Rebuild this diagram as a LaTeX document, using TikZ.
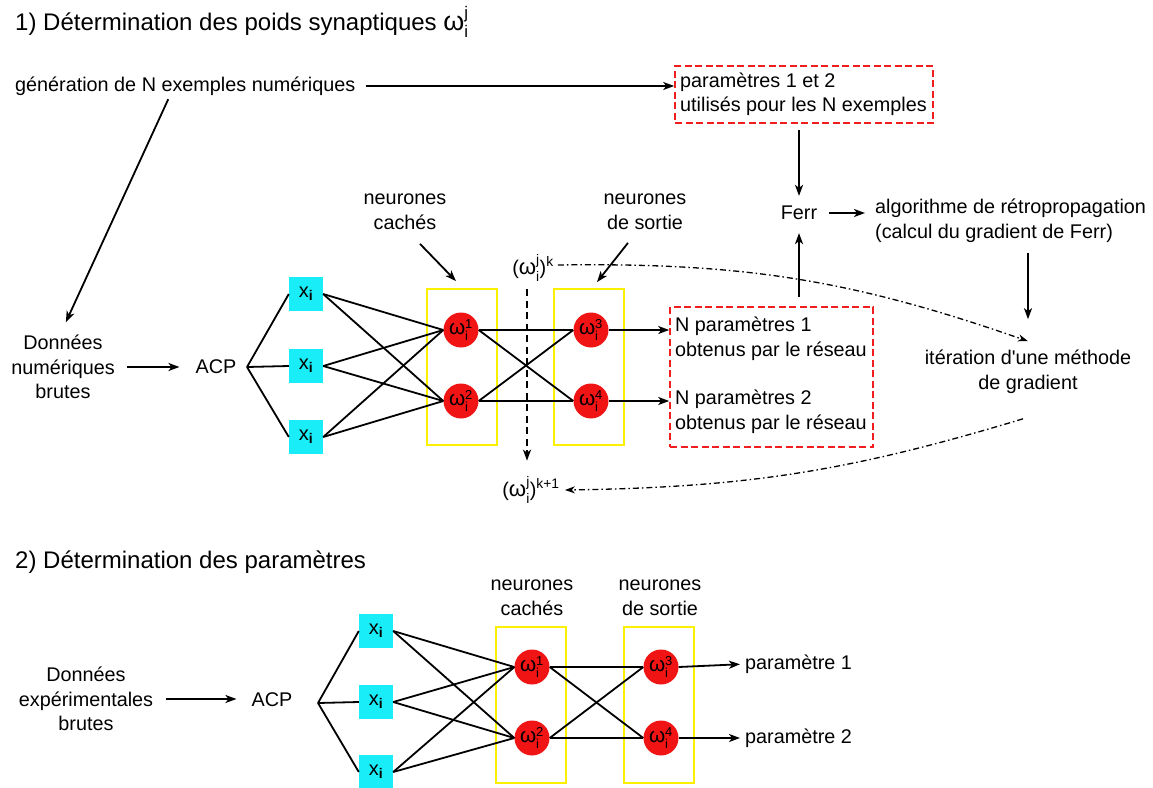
\documentclass[tikz,border=0pt]{standalone}
\usepackage{amsmath}
\usepackage{fontspec}
\setmainfont{Liberation Sans}
\usetikzlibrary{arrows.meta,calc}

\definecolor{inputcyan}{RGB}{25,238,248}
\definecolor{neuronred}{RGB}{240,20,20}
\definecolor{layeryellow}{RGB}{250,240,0}
\definecolor{framered}{RGB}{240,30,30}

% weight w_i^n, input x_i, iterate (w_i^j)^n
\newcommand{\om}{\scalebox{1.12}{ω}}
\newcommand{\wgt}[1]{$\text{\om}_{\text{i}}^{\text{#1}}$}
\newcommand{\inx}{$\text{x}_{\textbf{i}}$}
\newcommand{\wit}[1]{$\text{(\om}_{\text{i}}^{\text{j}}\text{)}^{\text{#1}}$}

\begin{document}
\begin{tikzpicture}[x=1pt,y=-1pt,
  txt/.style={font=\fontsize{19.8}{24.5}\selectfont, inner sep=0pt, align=center},
  ttl/.style={font=\fontsize{24}{28}\selectfont, inner sep=0pt, anchor=west},
  wire/.style={line width=1.8pt},
  arr/.style={line width=1.8pt, -{Stealth[length=11pt,width=8pt,inset=3pt]}},
  dasharr/.style={arr, dash pattern=on 7pt off 4.5pt},
  loop/.style={line width=1.3pt, dash pattern=on 6pt off 3pt on 1.5pt off 3pt,
    -{Stealth[length=10pt,width=7pt,inset=3pt]}},
  inbox/.style={fill=inputcyan, minimum size=34pt, inner sep=0pt, font=\fontsize{20}{22}\selectfont},
  neuron/.style={circle, fill=neuronred, minimum size=35pt, inner sep=0pt, font=\fontsize{18.5}{21}\selectfont},
  layer/.style={draw=layeryellow, line width=1.8pt, minimum width=70pt, minimum height=156pt, inner sep=0pt},
  redframe/.style={draw=framered, line width=1.6pt, dash pattern=on 7pt off 3.5pt, inner sep=0pt},
]
\useasboundingbox (0,0) rectangle (1153,787);

%% ---------- Part 1: training the synaptic weights ----------
\node[ttl] (t1) at (15,22) {1) Détermination des poids synaptiques \wgt{j}};
\node[txt, anchor=west] (gen) at (15,86) {génération de N exemples numériques};
\node[redframe, minimum width=258pt, minimum height=57pt] (pars) at (804,94.5) {};
\node[txt, anchor=west, align=left] (parst) at (680,94.5) {paramètres 1 et 2\\utilisés pour les N exemples};
\node[txt] (ferr) at (799,213) {Ferr};
\node[txt, anchor=west, align=left] (algo) at (875,221) {algorithme de rétropropagation\\(calcul du gradient de Ferr)};
\node[txt] (iter) at (1028,372) {itération d\textquotesingle une méthode\\de gradient};
\node[txt] (don) at (63,367) {Données\\numériques\\brutes};
\node[txt] (acp) at (216,367) {ACP};
\coordinate (fan) at (247,367);

\node[inbox] (x1) at (306,294) {\inx};
\node[inbox] (x2) at (306,366) {\inx};
\node[inbox] (x3) at (306,437) {\inx};

\node[layer] (L1) at (462,367) {};
\node[layer] (L2) at (589,367) {};
\node[neuron] (n1) at (461,330) {\wgt{1}};
\node[neuron] (n2) at (461,401) {\wgt{2}};
\node[neuron] (n3) at (591,330) {\wgt{3}};
\node[neuron] (n4) at (591,401) {\wgt{4}};

\node[txt] (hid) at (405,212) {neurones\\cachés};
\node[txt] (outl) at (645,212) {neurones\\de sortie};
\node[txt] (wk) at (533,268) {\wit{k}};
\node[txt] (wk1) at (531,490) {\wit{k+1}};

\node[redframe, minimum width=203pt, minimum height=140pt] (res) at (771.5,377) {};
\node[txt, anchor=west, align=left] (r1) at (675,339) {N paramètres 1\\obtenus par le réseau};
\node[txt, anchor=west, align=left] (r2) at (675,412) {N paramètres 2\\obtenus par le réseau};

% data flow
\draw[arr, shorten <=10pt] (gen.east) -- (gen.east -| pars.west);
\draw[arr, shorten <=4pt, shorten >=14pt] ($(gen.south west)!0.455!(gen.south east)$) -- ($(don.north)+(-3,0)$);
\draw[arr, shorten <=12pt, shorten >=16pt] (don.east) -- (acp.west);
\foreach \b in {x1,x2,x3} \draw[wire] (fan) -- (\b.west);
\foreach \b in {x1,x2,x3} \foreach \n in {n1,n2} \draw[wire] (\b.east) -- (\n.west);
\foreach \a in {n1,n2} \foreach \n in {n3,n4} \draw[wire] (\a.east) -- (\n.west);
\draw[arr] (n3.east) -- (n3 -| res.west);
\draw[arr] (n4.east) -- (n4 -| res.west);

% layer labels
\draw[arr] ($(hid.south)+(15,14)$) -- ($(L1.north)+(-6,-7)$);
\draw[arr] ($(outl.south)+(-17,13)$) -- ($(L2.north)+(8,-6)$);

% error and gradient loop
\draw[arr, shorten <=6pt, shorten >=10pt] (ferr |- pars.south) -- (ferr.north);
\draw[arr, shorten <=9pt, shorten >=13pt] (ferr |- res.north) -- (ferr.south);
\draw[arr, shorten <=12pt, shorten >=10pt] (ferr.east) -- (ferr.east -| algo.west);
\draw[arr, shorten <=10pt, shorten >=31pt] (algo.south -| iter.north) -- (iter.north);
\draw[dasharr] ($(wk.south)+(-6,8)$) -- ($(wk1.north)+(-4,-16)$);
\draw[loop] ($(wk.east)+(4,-3)$) to[bend left=10] ($(iter.north)+(0,-9)$);
\draw[loop] ($(iter.south)+(-5,25)$) to[bend left=8] ($(wk1.east)+(5,0)$);

%% ---------- Part 2: using the trained network ----------
\node[ttl] (t2) at (15,562) {2) Détermination des paramètres};
\node[txt] (don2) at (86,699) {Données\\expérimentales\\brutes};
\node[txt] (acp2) at (272,700) {ACP};
\coordinate (fan2) at (318,703);

\node[inbox] (y1) at (376,631) {\inx};
\node[inbox] (y2) at (376,702) {\inx};
\node[inbox] (y3) at (376,772) {\inx};

\node[layer] (L21) at (531,705) {};
\node[layer] (L22) at (659,705) {};
\node[neuron] (m1) at (532,667) {\wgt{1}};
\node[neuron] (m2) at (532,738) {\wgt{2}};
\node[neuron] (m3) at (661,667) {\wgt{3}};
\node[neuron] (m4) at (661,738) {\wgt{4}};

\node[txt] (hid2) at (532,598) {neurones\\cachés};
\node[txt] (outl2) at (660,598) {neurones\\de sortie};
\node[txt, anchor=west] (p1) at (745,664) {paramètre 1};
\node[txt, anchor=west] (p2) at (745,738) {paramètre 2};

\draw[arr, shorten <=13pt, shorten >=15pt] (don2.east) -- (don2.east -| acp2.west);
\foreach \b in {y1,y2,y3} \draw[wire] (fan2) -- (\b.west);
\foreach \b in {y1,y2,y3} \foreach \n in {m1,m2} \draw[wire] (\b.east) -- (\n.west);
\foreach \a in {m1,m2} \foreach \n in {m3,m4} \draw[wire] (\a.east) -- (\n.west);
\draw[arr, shorten >=5pt] (m3.east) -- (p1.west);
\draw[arr, shorten >=5pt] (m4.east) -- (p2.west);
\end{tikzpicture}
\end{document}
